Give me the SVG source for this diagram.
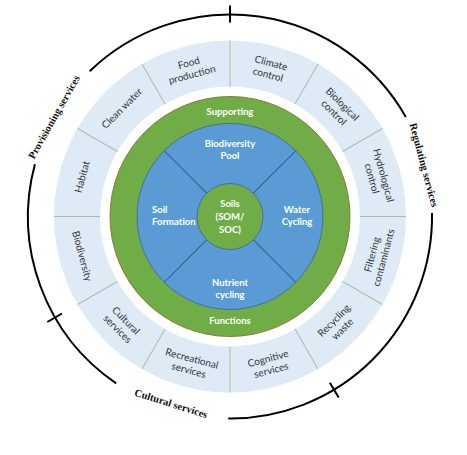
<svg xmlns="http://www.w3.org/2000/svg" xmlns:xlink="http://www.w3.org/1999/xlink" width="467" height="455" viewBox="0 0 467 455">
<style>
.lbl{font-family:Lato,"Liberation Sans",sans-serif;font-size:10px;fill:#333;text-anchor:middle}
.in{font-family:Lato,"Liberation Sans",sans-serif;font-size:9.5px;font-weight:bold;fill:#fff;text-anchor:middle}
.out{font-family:"Liberation Serif","Times New Roman",serif;font-size:10.5px;font-weight:bold;fill:#111;text-anchor:middle}
.arc{fill:none;stroke:#000;stroke-width:2}
.div{stroke:#a9bfa4;stroke-width:1}
.q{stroke:#2f5f8f;stroke-width:1}
</style>
<defs>
<line id="dv" x1="360" y1="216.5" x2="406" y2="216.5" class="div"/>
<line id="ql" x1="263" y1="216.5" x2="323" y2="216.5" class="q"/>
</defs>
<rect width="467" height="455" fill="#fff"/>

<g id="ring">
<circle cx="230" cy="216.5" r="153" fill="none" stroke="#deebf7" stroke-width="46"/>
<use xlink:href="#dv" href="#dv" transform="rotate(-90 230 216.5)"/>
<use xlink:href="#dv" href="#dv" transform="rotate(-60 230 216.5)"/>
<use xlink:href="#dv" href="#dv" transform="rotate(-30 230 216.5)"/>
<use xlink:href="#dv" href="#dv"/>
<use xlink:href="#dv" href="#dv" transform="rotate(30 230 216.5)"/>
<use xlink:href="#dv" href="#dv" transform="rotate(60 230 216.5)"/>
<use xlink:href="#dv" href="#dv" transform="rotate(90 230 216.5)"/>
<use xlink:href="#dv" href="#dv" transform="rotate(120 230 216.5)"/>
<use xlink:href="#dv" href="#dv" transform="rotate(150 230 216.5)"/>
<use xlink:href="#dv" href="#dv" transform="rotate(180 230 216.5)"/>
<use xlink:href="#dv" href="#dv" transform="rotate(210 230 216.5)"/>
<use xlink:href="#dv" href="#dv" transform="rotate(240 230 216.5)"/>
</g>

<g id="food-production"><text class="lbl" transform="translate(190.4 68.7) rotate(-15)"><tspan x="0" y="-2.5">Food</tspan><tspan x="0" y="9.5">production</tspan></text></g>
<g id="climate-control"><text class="lbl" transform="translate(269.6 68.7) rotate(15)"><tspan x="0" y="-2.5">Climate</tspan><tspan x="0" y="9.5">control</tspan></text></g>
<g id="biological-control"><text class="lbl" transform="translate(338.2 108.3) rotate(45)"><tspan x="0" y="-2.5">Biological</tspan><tspan x="0" y="9.5">control</tspan></text></g>
<g id="hydrological-control"><text class="lbl" transform="translate(377.8 176.9) rotate(75)"><tspan x="0" y="-2.5">Hydrological</tspan><tspan x="0" y="9.5">control</tspan></text></g>
<g id="filtering-contaminants"><text class="lbl" transform="translate(377.8 256.1) rotate(-75)"><tspan x="0" y="-2.5">Filtering</tspan><tspan x="0" y="9.5">contaminants</tspan></text></g>
<g id="recycling-waste"><text class="lbl" transform="translate(338.2 324.7) rotate(-45)"><tspan x="0" y="-2.5">Recycling</tspan><tspan x="0" y="9.5">waste</tspan></text></g>
<g id="cognitive-services"><text class="lbl" transform="translate(269.6 364.3) rotate(-15)"><tspan x="0" y="-2.5">Cognitive</tspan><tspan x="0" y="9.5">services</tspan></text></g>
<g id="recreational-services"><text class="lbl" transform="translate(190.4 364.3) rotate(15)"><tspan x="0" y="-2.5">Recreational</tspan><tspan x="0" y="9.5">services</tspan></text></g>
<g id="cultural-services-item"><text class="lbl" transform="translate(121.8 324.7) rotate(45)"><tspan x="0" y="-2.5">Cultural</tspan><tspan x="0" y="9.5">services</tspan></text></g>
<g id="biodiversity"><text class="lbl" transform="translate(82.2 256.1) rotate(75)" y="3.5">Biodiversity</text></g>
<g id="habitat"><text class="lbl" transform="translate(82.2 176.9) rotate(-75)" y="3.5">Habitat</text></g>
<g id="clean-water"><text class="lbl" transform="translate(121.8 108.3) rotate(-45)" y="3.5">Clean water</text></g>

<g id="functions-ring">
<circle cx="230" cy="216.5" r="120" fill="#70ad47" stroke="#8c7b3c" stroke-width="1"/>
<text class="in" x="230" y="114.5">Supporting</text>
<text class="in" x="230" y="323.5">Functions</text>
</g>

<g id="blue-disk">
<circle cx="230" cy="216.5" r="93" fill="#5b9bd5" stroke="#41719c" stroke-width="1"/>
<use xlink:href="#ql" href="#ql" transform="rotate(-135 230 216.5)"/>
<use xlink:href="#ql" href="#ql" transform="rotate(-45 230 216.5)"/>
<use xlink:href="#ql" href="#ql" transform="rotate(45 230 216.5)"/>
<use xlink:href="#ql" href="#ql" transform="rotate(135 230 216.5)"/>
</g>
<g id="biodiversity-pool"><text class="in" x="230" y="146.5">Biodiversity</text><text class="in" x="230" y="159">Pool</text></g>
<g id="soil-formation"><text class="in" x="152" y="213" style="text-anchor:start">Soil</text><text class="in" x="152" y="225" style="text-anchor:start">Formation</text></g>
<g id="water-cycling"><text class="in" x="297" y="213">Water</text><text class="in" x="297" y="225">Cycling</text></g>
<g id="nutrient-cycling"><text class="in" x="230" y="286">Nutrient</text><text class="in" x="230" y="298">cycling</text></g>
<g id="soils">
<circle cx="230" cy="216.5" r="33" fill="#70ad47" stroke="#41719c" stroke-width="1"/>
<text class="in" x="230" y="207">Soils</text><text class="in" x="230" y="220">(SOM/</text><text class="in" x="230" y="232.5">SOC)</text>
</g>

<g id="connectors">
<path class="arc" d="M89.7 71.2 A202 202 0 0 1 405.8 117"/>
<path class="arc" d="M432 213 A202 202 0 0 1 228.2 418.5"/>
<path class="arc" d="M116.2 383.4 A202 202 0 0 1 34.9 164.2"/>
<line class="arc" x1="230" y1="22.5" x2="230" y2="5.5"/>
<line class="arc" x1="329.9" y1="382.8" x2="338.7" y2="397.4"/>
<line class="arc" x1="62" y1="313.5" x2="47.3" y2="322"/>
</g>

<g id="provisioning-services"><text class="out" transform="translate(54 117) rotate(-60.5)" y="3.5">Provisioning services</text></g>
<g id="regulating-services"><text class="out" transform="translate(424 165) rotate(75)" y="3.5">Regulating services</text></g>
<g id="cultural-services"><text class="out" transform="translate(171 403.5) rotate(17.5)" y="3.5">Cultural services</text></g>
</svg>
